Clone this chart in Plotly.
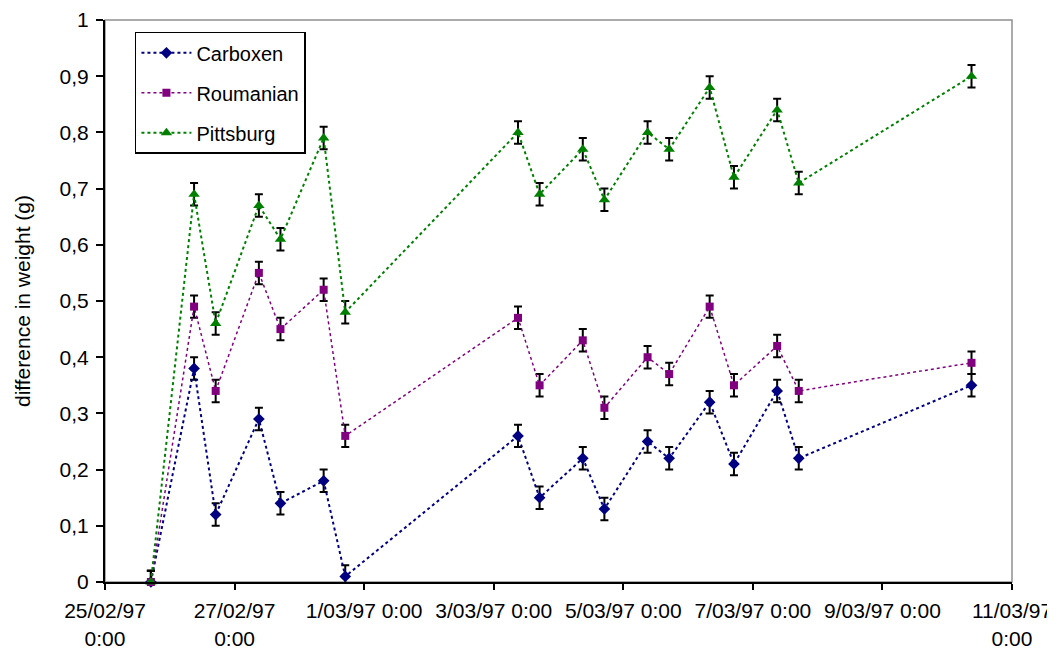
import plotly.graph_objects as go

times = ["1997-02-25 17:00", "1997-02-26 09:00", "1997-02-26 17:00", "1997-02-27 09:00",
         "1997-02-27 17:00", "1997-02-28 09:00", "1997-02-28 17:00", "1997-03-03 09:00",
         "1997-03-03 17:00", "1997-03-04 09:00", "1997-03-04 17:00", "1997-03-05 09:00",
         "1997-03-05 17:00", "1997-03-06 08:00", "1997-03-06 17:00", "1997-03-07 09:00",
         "1997-03-07 17:00", "1997-03-10 09:00"]

carboxen = [0, 0.38, 0.12, 0.29, 0.14, 0.18, 0.01, 0.26, 0.15, 0.22, 0.13, 0.25, 0.22,
            0.32, 0.21, 0.34, 0.22, 0.35]
roumanian = [0, 0.49, 0.34, 0.55, 0.45, 0.52, 0.26, 0.47, 0.35, 0.43, 0.31, 0.40, 0.37,
             0.49, 0.35, 0.42, 0.34, 0.39]
pittsburg = [0, 0.69, 0.46, 0.67, 0.61, 0.79, 0.48, 0.80, 0.69, 0.77, 0.68, 0.80, 0.77,
             0.88, 0.72, 0.84, 0.71, 0.90]
err = [0.02] * len(times)

tick_vals = ["1997-02-25", "1997-02-27", "1997-03-01", "1997-03-03", "1997-03-05",
             "1997-03-07", "1997-03-09", "1997-03-11"]
tick_text = ["25/02/97<br>0:00", "27/02/97<br>0:00", "1/03/97 0:00", "3/03/97 0:00",
             "5/03/97 0:00", "7/03/97 0:00", "9/03/97 0:00", "11/03/97<br>0:00"]

FONT = "Liberation Sans, Arial, sans-serif"

series = [
    ("Carboxen", carboxen, "#000080", "diamond", 9, 2),
    ("Roumanian", roumanian, "#800080", "square", 8, 1.5),
    ("Pittsburg", pittsburg, "#008000", "triangle-up", 10, 2),
]

fig = go.Figure()
for name, vals, col, sym, msize, lw in series:
    fig.add_trace(go.Scatter(
        x=times, y=vals, name=name, mode="lines+markers",
        line=dict(color=col, width=lw, dash="dot"),
        marker=dict(color=col, symbol=sym, size=msize, line=dict(width=0)),
        error_y=dict(type="data", array=err, visible=True, color="black",
                     thickness=2, width=4),
        cliponaxis=False, legendgroup=name,
    ))

fig.add_shape(type="rect", xref="x domain", yref="y domain", x0=0, x1=1, y0=0, y1=1,
              line=dict(color="#909090", width=1.5), layer="below")

# page body has an 8px margin, so the figure is sized/offset to compensate
fig.update_layout(
    width=1047, height=641,
    margin=dict(l=97, r=43, t=12, b=67),
    paper_bgcolor="white", plot_bgcolor="white",
    separators=",.",
    font=dict(family=FONT, size=20, color="black"),
    showlegend=True,
    legend=dict(x=0.033, y=0.979, xanchor="left", yanchor="top",
                bordercolor="black", borderwidth=1.5, bgcolor="white",
                font=dict(size=20), tracegroupgap=11, itemwidth=50),
    xaxis=dict(type="date", range=["1997-02-25", "1997-03-11"],
               tickvals=tick_vals, ticktext=tick_text, automargin=False,
               showgrid=False, zeroline=False,
               showline=True, linecolor="black", linewidth=2,
               ticks="outside", ticklen=6, tickwidth=2, tickcolor="black",
               ticklabelstandoff=3, tickfont=dict(size=21)),
    yaxis=dict(range=[0, 1], dtick=0.1, tick0=0, automargin=False,
               showgrid=False, zeroline=False,
               showline=True, linecolor="black", linewidth=2,
               ticks="outside", ticklen=7, tickwidth=2, tickcolor="black",
               ticklabelstandoff=3, tickfont=dict(size=21),
               title=dict(text="difference in weight (g)", font=dict(size=21),
                          standoff=23)),
)

fig.write_html("out.html")
